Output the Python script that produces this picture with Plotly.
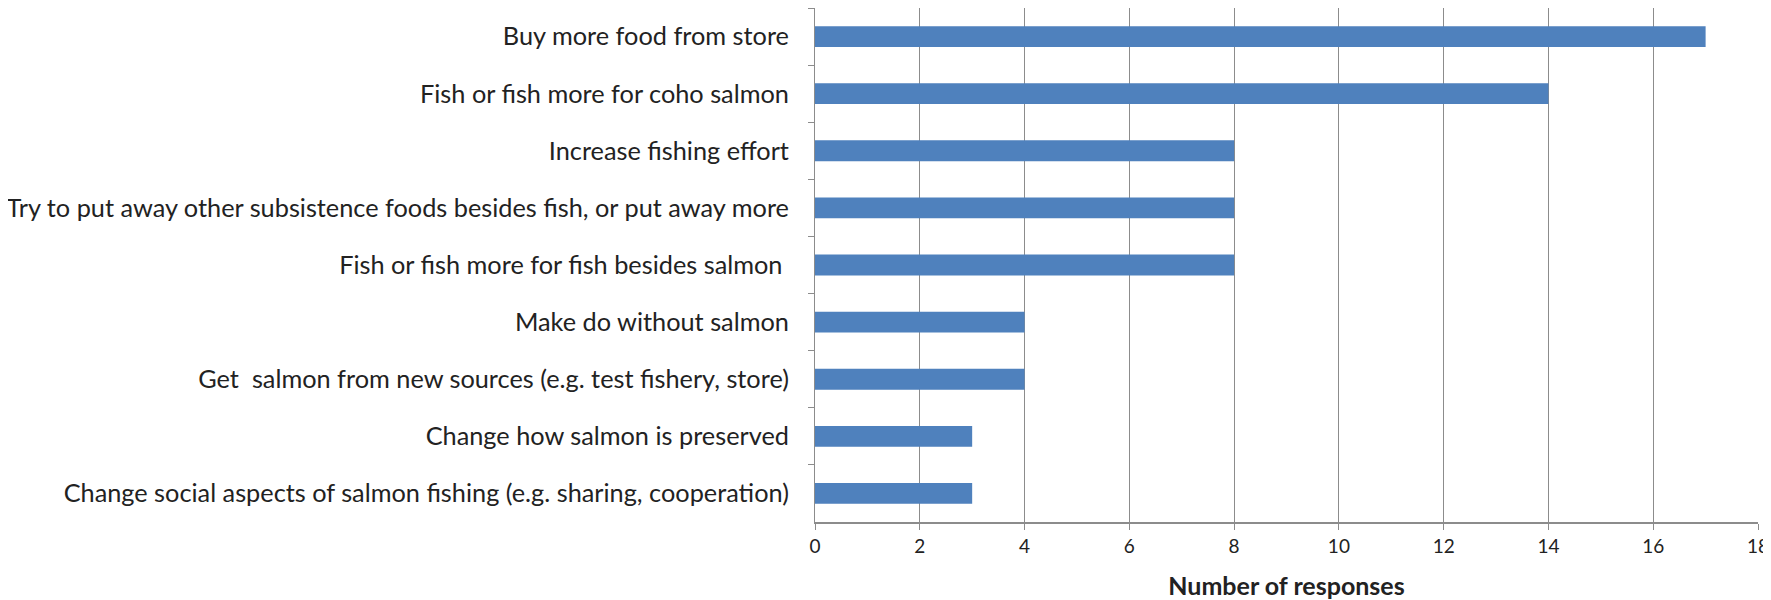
import plotly.graph_objects as go

categories = [
    "Buy more food from store",
    "Fish or fish more for coho salmon",
    "Increase fishing effort",
    "Try to put away other subsistence foods besides fish, or put away more",
    "Fish or fish more for fish besides salmon ",
    "Make do without salmon",
    "Get  salmon from new sources (e.g. test fishery, store)",
    "Change how salmon is preserved",
    "Change social aspects of salmon fishing (e.g. sharing, cooperation)",
]
responses = [17, 14, 8, 8, 8, 4, 4, 3, 3]
x_ticks = [0, 2, 4, 6, 8, 10, 12, 14, 16, 18]
x_title = "Number of responses"

FONT = "Lato"

fig = go.Figure(
    go.Bar(
        x=responses,
        y=categories,
        orientation="h",
        marker=dict(color="#4F81BD", line=dict(color="#4F81BD", width=0)),
    )
)

# page body adds an 8px margin, so the figure is sized to fit the 1771x600 window
fig.update_layout(
    width=1763,
    height=592,
    margin=dict(l=807, r=13, t=0, b=78, autoexpand=False),
    paper_bgcolor="white",
    plot_bgcolor="white",
    bargap=0.635,
    showlegend=False,
    font=dict(family=FONT, color="#222222"),
)

fig.update_xaxes(
    range=[0, 18],
    tickvals=x_ticks,
    ticktext=[str(v) for v in x_ticks],
    showgrid=True,
    gridcolor="#8c8c8c",
    gridwidth=1,
    showline=True,
    linecolor="#8c8c8c",
    linewidth=2,
    ticks="outside",
    ticklen=6,
    tickcolor="#8c8c8c",
    ticklabeloverflow="allow",
    automargin=False,
    tickfont=dict(family=FONT, size=19, color="#222222"),
    title=dict(text="<b>" + x_title + "</b>", font=dict(family=FONT, size=25, color="#222222"), standoff=23),
    zeroline=False,
)

fig.update_yaxes(
    categoryorder="array",
    categoryarray=categories,
    autorange="reversed",
    showgrid=False,
    showline=True,
    linecolor="#8c8c8c",
    linewidth=1,
    ticks="outside",
    tickson="boundaries",
    ticklen=6,
    tickcolor="#8c8c8c",
    ticklabelstandoff=20,
    automargin=False,
    tickfont=dict(family=FONT, size=25.3, color="#222222"),
)

fig.write_html("out.html")
